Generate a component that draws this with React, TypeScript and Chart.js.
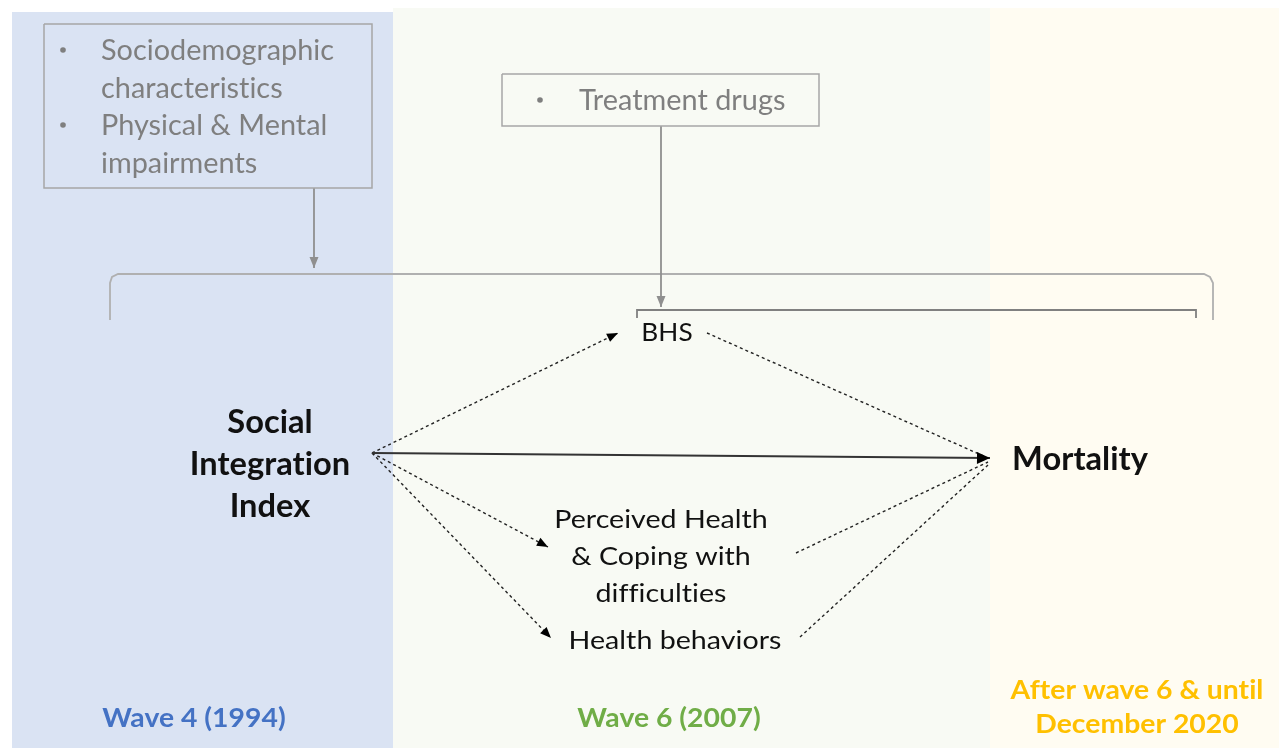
import React, { useEffect, useRef } from "react";
import { Chart, registerables } from "chart.js";
Chart.register(...registerables);

const W = 1279;
const H = 748;

// Period panels
const periodLabels = ["Wave 4 (1994)", "Wave 6 (2007)", "After wave 6 & until\nDecember 2020"];
const periodStart = [12, 393, 990];
const periodEnd = [393, 990, 1279];
const periodFill = ["#dae3f3", "#f8faf4", "#fffcf2"];
const periodColor = ["#4472c4", "#70ad47", "#ffc000"];
const periodLabelX = [194, 669, 1137];
const periodLabelY = [719, 719, 691];

// Nodes of the path model
const nodeLabels = [
  "Social\nIntegration\nIndex",
  "BHS",
  "Perceived Health\n& Coping with\ndifficulties",
  "Health behaviors",
  "Mortality",
];
const nodeX = [270, 667, 661, 675, 1080];
const nodeY = [423, 333, 520, 641, 460];
const nodeBold = [true, false, false, false, true];

// Covariate boxes
const boxItems = [
  ["Sociodemographic\ncharacteristics", "Physical & Mental\nimpairments"],
  ["Treatment drugs"],
];
const boxLeft = [44, 502];
const boxRight = [372, 819];
const boxTop = [24, 74];
const boxBottom = [188, 126];

// Paths: [x0, y0, x1, y1]
const solidPaths = [[372, 453, 990, 458]];
const dashedArrowPaths = [
  [372, 453, 618, 333],
  [372, 453, 548, 547],
  [372, 453, 551, 638],
];
const dashedPlainPaths = [
  [707, 333, 988, 458],
  [796, 553, 988, 462],
  [800, 637, 988, 465],
];
const connectorPaths = [
  [314, 188, 314, 268],
  [661, 126, 661, 307],
];
// Brackets (polyline points)
const outerBracketX = [110, 110, 112, 118, 1204, 1210, 1213, 1213];
const outerBracketY = [320, 283, 277, 274, 274, 277, 283, 320];
const innerBracketX = [637, 637, 1196, 1196];
const innerBracketY = [318, 310, 310, 318];

const GRAY = "#8f8f8f";
const GRAY_TEXT = "#7f7f7f";
const BLACK = "#111111";
const FONT = "Lato, 'Open Sans', sans-serif";

function pts(xs: number[], ys: number[]) {
  return xs.map((x, i) => ({ x, y: ys[i] }));
}

export default function App() {
  const ref = useRef<HTMLCanvasElement | null>(null);
  useEffect(() => {
    const canvas = ref.current;
    if (!canvas) return;

    const datasets: any[] = [];
    boxLeft.forEach((l, i) => {
      datasets.push({
        data: pts([l, boxRight[i], boxRight[i], l, l], [boxTop[i], boxTop[i], boxBottom[i], boxBottom[i], boxTop[i]]),
        borderColor: "#a6a6a6",
        borderWidth: 1.5,
      });
    });
    connectorPaths.forEach((p) =>
      datasets.push({ data: pts([p[0], p[2]], [p[1], p[3]]), borderColor: GRAY, borderWidth: 1.8, arrow: "gray" })
    );
    datasets.push({ data: pts(outerBracketX, outerBracketY), borderColor: "#b0b0b0", borderWidth: 1.8 });
    datasets.push({ data: pts(innerBracketX, innerBracketY), borderColor: "#808080", borderWidth: 1.8 });
    solidPaths.forEach((p) =>
      datasets.push({ data: pts([p[0], p[2]], [p[1], p[3]]), borderColor: "#333333", borderWidth: 2, arrow: "big" })
    );
    dashedArrowPaths.forEach((p) =>
      datasets.push({ data: pts([p[0], p[2]], [p[1], p[3]]), borderColor: "#222222", borderWidth: 1.4, borderDash: [3, 3], arrow: "black" })
    );
    dashedPlainPaths.forEach((p) =>
      datasets.push({ data: pts([p[0], p[2]], [p[1], p[3]]), borderColor: "#222222", borderWidth: 1.4, borderDash: [3, 3] })
    );
    datasets.forEach((d) => {
      d.showLine = true;
      d.pointRadius = 0;
      d.fill = false;
      d.tension = 0;
    });

    const textLines = (
      ctx: CanvasRenderingContext2D,
      text: string,
      x: number,
      y: number,
      lineH: number,
      align: CanvasTextAlign,
      sx = 1
    ) => {
      text.split("\n").forEach((line, i) => {
        ctx.save();
        ctx.translate(x, y + i * lineH);
        ctx.scale(sx, 1);
        ctx.textAlign = align;
        ctx.textBaseline = "middle";
        try {
          (ctx as any).letterSpacing = "0.01px";
        } catch (e) {}
        ctx.fillText(line, 0, 0);
        ctx.restore();
      });
    };

    const diagramPlugin = {
      id: "diagram",
      beforeDatasetsDraw(chart: any) {
        const ctx = chart.ctx as CanvasRenderingContext2D;
        const xs = chart.scales.x;
        const ys = chart.scales.y;
        ctx.save();
        ctx.fillStyle = "#ffffff";
        ctx.fillRect(0, 0, W, H);
        periodStart.forEach((s, i) => {
          const x0 = xs.getPixelForValue(s);
          const x1 = xs.getPixelForValue(periodEnd[i]);
          const y0 = ys.getPixelForValue(i === 0 ? 12 : 8);
          ctx.fillStyle = periodFill[i];
          ctx.fillRect(x0, y0, x1 - x0, ys.getPixelForValue(H) - y0);
        });
        ctx.restore();
      },
      afterDatasetsDraw(chart: any) {
        const ctx = chart.ctx as CanvasRenderingContext2D;
        const xs = chart.scales.x;
        const ys = chart.scales.y;
        ctx.save();
        // arrowheads
        chart.data.datasets.forEach((d: any) => {
          if (!d.arrow) return;
          const a = d.data[d.data.length - 2];
          const b = d.data[d.data.length - 1];
          const ax = xs.getPixelForValue(a.x), ay = ys.getPixelForValue(a.y);
          const bx = xs.getPixelForValue(b.x), by = ys.getPixelForValue(b.y);
          const ang = Math.atan2(by - ay, bx - ax);
          const len = d.arrow === "big" ? 13 : 11;
          const half = d.arrow === "big" ? 6 : 4.5;
          ctx.fillStyle = d.arrow === "gray" ? GRAY : "#000000";
          ctx.beginPath();
          ctx.moveTo(bx, by);
          ctx.lineTo(bx - len * Math.cos(ang) - half * Math.sin(ang), by - len * Math.sin(ang) + half * Math.cos(ang));
          ctx.lineTo(bx - len * Math.cos(ang) + half * Math.sin(ang), by - len * Math.sin(ang) - half * Math.cos(ang));
          ctx.closePath();
          ctx.fill();
        });

        // box texts
        ctx.fillStyle = GRAY_TEXT;
        ctx.font = `28px ${FONT}`;
        boxItems.forEach((items, i) => {
          let y = boxTop[i] + 26;
          const x0 = xs.getPixelForValue(boxLeft[i]);
          const bulletX = i === 0 ? x0 + 19 : x0 + 38;
          const textX = i === 0 ? x0 + 57 : x0 + 77;
          items.forEach((item) => {
            const py = ys.getPixelForValue(y);
            ctx.beginPath();
            ctx.arc(bulletX, py, 2.8, 0, Math.PI * 2);
            ctx.fill();
            textLines(ctx, item, textX, py + 1, 37.5, "left", 1.03);
            y += item.split("\n").length * 37.5;
          });
        });

        // nodes
        nodeLabels.forEach((lab, i) => {
          ctx.fillStyle = BLACK;
          let sx = 1.02;
          if (nodeBold[i]) {
            ctx.font = `bold 32px ${FONT}`;
          } else if (i === 1) {
            ctx.font = `25px ${FONT}`;
            sx = 1.05;
          } else {
            ctx.font = `25px ${FONT}`;
            sx = 1.145;
          }
          textLines(
            ctx,
            lab,
            xs.getPixelForValue(nodeX[i]),
            ys.getPixelForValue(nodeY[i]),
            nodeBold[i] ? 42 : 37,
            "center",
            sx
          );
        });

        // period labels
        periodLabels.forEach((lab, i) => {
          ctx.fillStyle = periodColor[i];
          ctx.font = `bold 26px ${FONT}`;
          textLines(ctx, lab, xs.getPixelForValue(periodLabelX[i]), ys.getPixelForValue(periodLabelY[i]), 34, "center", 1.09);
        });
        ctx.restore();
      },
    };

    const chart = new Chart(canvas, {
      type: "scatter",
      data: { datasets },
      options: {
        animation: false,
        responsive: false,
        maintainAspectRatio: false,
        layout: { padding: 0 },
        plugins: { legend: { display: false }, tooltip: { enabled: false } },
        scales: {
          x: { type: "linear", min: 0, max: W, display: false },
          y: { type: "linear", min: 0, max: H, reverse: true, display: false },
        },
      },
      plugins: [diagramPlugin],
    } as any);
    return () => chart.destroy();
  }, []);

  return (
    <div style={{ position: "fixed", left: 0, top: 0, width: W, height: H }}>
      <canvas ref={ref} width={W} height={H} style={{ width: W, height: H, display: "block" }} />
    </div>
  );
}
